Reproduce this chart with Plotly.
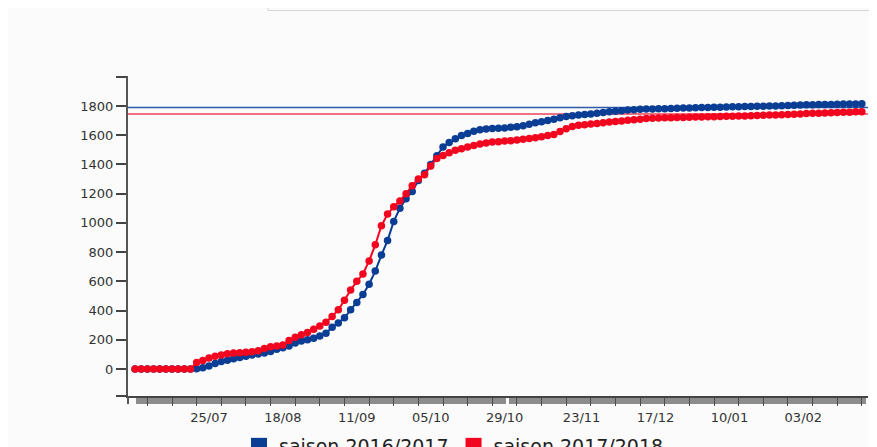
import plotly.graph_objects as go
import pandas as pd

# ---- data (cumulative values, one reading every 2 days from 1 July) ----
start_date = "2016-07-01"
step = "2D"

saison_2016_2017 = [
    0, 0, 0, 0, 0, 0, 0, 0, 0, 0,
    2, 8, 20, 38, 52, 60, 70, 78, 88, 96,
    102, 110, 120, 135, 146, 158, 178, 192, 200, 210,
    225, 245, 285, 315, 350, 405, 455, 510, 580, 670,
    780, 880, 1010, 1100, 1165, 1215, 1290, 1340, 1400, 1460,
    1520, 1550, 1575, 1598, 1612, 1628, 1638, 1642, 1646, 1648,
    1650, 1655, 1658, 1665, 1675, 1685, 1692, 1700, 1710, 1720,
    1728, 1733, 1738, 1742, 1745, 1750, 1755, 1760, 1764, 1768,
    1772, 1775, 1777, 1779, 1780, 1781, 1782, 1783, 1785, 1786,
    1787, 1788, 1789, 1790, 1791, 1792, 1793, 1794, 1795, 1796,
    1797, 1798, 1799, 1800, 1800, 1801, 1803, 1805, 1807, 1808,
    1809, 1810, 1810, 1811, 1812, 1813, 1813, 1814, 1815,
]

saison_2017_2018 = [
    0, 0, 0, 0, 0, 0, 0, 0, 0, 0,
    45, 58, 75, 88, 95, 105, 110, 112, 115, 118,
    125, 140, 152, 158, 165, 195, 218, 235, 250, 272,
    295, 320, 360, 405, 470, 540, 600, 650, 740, 850,
    980, 1060, 1110, 1150, 1200, 1255, 1300, 1330, 1390, 1440,
    1462, 1480, 1497, 1508, 1520, 1530, 1540, 1547, 1553, 1556,
    1560, 1563, 1567, 1572, 1578, 1582, 1590, 1598, 1605, 1625,
    1645, 1660, 1668, 1672, 1676, 1680, 1686, 1690, 1694, 1698,
    1702, 1706, 1710, 1714, 1716, 1718, 1719, 1720, 1721, 1722,
    1723, 1724, 1725, 1726, 1727, 1728, 1729, 1730, 1731, 1732,
    1734, 1735, 1737, 1738, 1739, 1740, 1742, 1744, 1746, 1748,
    1750, 1751, 1752, 1753, 1755, 1757, 1758, 1760, 1761,
]

ref_2016_2017 = 1790
ref_2017_2018 = 1745

series_names = ["saison 2016/2017", "saison 2017/2018"]

x_tick_dates = ["2016-07-25", "2016-08-18", "2016-09-11", "2016-10-05", "2016-10-29",
                "2016-11-23", "2016-12-17", "2017-01-10", "2017-02-03"]
x_tick_text = ["25/07", "18/08", "11/09", "05/10", "29/10", "23/11", "17/12", "10/01", "03/02"]

y_tick_vals = [-184, 0, 200, 400, 600, 800, 1000, 1200, 1400, 1600, 1800, 2000]
y_tick_text = ["", "0", "200", "400", "600", "800", "1000", "1200", "1400", "1600", "1800", ""]

# ---- styling ----
BLUE = "#0a3d94"
RED = "#f2061f"
FONT = "DejaVu Sans"
BG = "#fbfbfb"

dates = pd.date_range(start_date, periods=len(saison_2016_2017), freq=step)

fig = go.Figure()

for vals, color, name in [(saison_2016_2017, BLUE, series_names[0]),
                          (saison_2017_2018, RED, series_names[1])]:
    fig.add_trace(go.Scatter(
        x=dates, y=vals, mode="lines+markers", name=name,
        line=dict(color=color, width=2),
        marker=dict(color=color, size=7.5, line=dict(width=0)),
        showlegend=False, hoverinfo="skip",
    ))

# legend-only entries (square swatches)
for color, name in [(BLUE, series_names[0]), (RED, series_names[1])]:
    fig.add_trace(go.Scatter(
        x=[None], y=[None], mode="markers", name=name,
        marker=dict(color=color, symbol="square", size=16),
        showlegend=True,
    ))

# page has an 8px body margin: figure spans page x 8..877, y 8..447
OFF = 8
FIG_W, FIG_H = 877 - OFF, 447 - OFF
# plot area in page pixels
L, R, T, B = 128, 868, 76, 396
W, H = R - L, B - T


def px(xp):
    return (xp - L) / W


def py(yp):
    return (B - yp) / H


shapes = [
    # reference levels
    dict(type="line", xref="paper", yref="y", x0=0, x1=1, y0=ref_2016_2017, y1=ref_2016_2017,
         line=dict(color="#2f58a6", width=1.5), layer="below"),
    dict(type="line", xref="paper", yref="y", x0=0, x1=1, y0=ref_2017_2018, y1=ref_2017_2018,
         line=dict(color="#f2435a", width=1.5), layer="below"),
    # grey band under the x axis
    dict(type="rect", xref="paper", yref="paper", x0=px(136), x1=px(866), y0=py(404), y1=py(396),
         fillcolor="#8c8c8c", line=dict(width=0), layer="below"),
    dict(type="rect", xref="paper", yref="paper", x0=px(506), x1=px(509), y0=py(404), y1=py(396),
         fillcolor="#ffffff", line=dict(width=0), layer="below"),
    # x axis extension to the left of the y axis
    dict(type="line", xref="paper", yref="paper", x0=px(118), x1=px(128), y0=0, y1=0,
         line=dict(color="#444", width=1.5)),
    dict(type="line", xref="paper", yref="paper", x0=px(128), x1=px(128), y0=py(404), y1=0,
         line=dict(color="#555", width=2)),
    # bottom edge of the card above the chart
    dict(type="rect", xref="paper", yref="paper", x0=px(268), x1=px(900), y0=py(10.5), y1=py(0),
         fillcolor="#fafafa", line=dict(color="#d6d6d6", width=1), layer="below"),
]

fig.update_layout(
    width=FIG_W, height=FIG_H,
    margin=dict(l=L - OFF, r=(OFF + FIG_W) - R, t=T - OFF, b=(OFF + FIG_H) - B, autoexpand=False),
    paper_bgcolor=BG, plot_bgcolor=BG,
    font=dict(family=FONT, size=13, color="#333"),
    shapes=shapes,
    showlegend=True,
    legend=dict(orientation="h", x=px(239), xanchor="left", y=py(427), yanchor="top",
                font=dict(family=FONT, size=19, color="#222"), bgcolor="rgba(0,0,0,0)",
                itemsizing="trace", traceorder="normal"),
    xaxis=dict(
        type="date",
        range=["2016-06-28 17:00", "2017-02-24"],
        tickmode="array", tickvals=x_tick_dates, ticktext=x_tick_text,
        ticks="outside", ticklen=9, tickcolor="rgba(0,0,0,0)",
        showgrid=False, zeroline=False,
        showline=True, linecolor="#444", linewidth=1.5,
        tickfont=dict(family=FONT, size=13, color="#333"),
        minor=dict(tickmode="linear", tick0="2016-07-05", dtick=8 * 86400000,
                   ticks="outside", ticklen=8, tickcolor="#4a4a4a", tickwidth=1, showgrid=False),
    ),
    yaxis=dict(
        range=[-184.8, 2005.3],
        tickmode="array", tickvals=y_tick_vals, ticktext=y_tick_text,
        ticks="outside", ticklen=10, tickcolor="#444", tickwidth=1.5,
        showgrid=False, zeroline=False,
        showline=True, linecolor="#555", linewidth=2,
        tickfont=dict(family=FONT, size=13, color="#333"),
    ),
)

fig.write_html("out.html")
